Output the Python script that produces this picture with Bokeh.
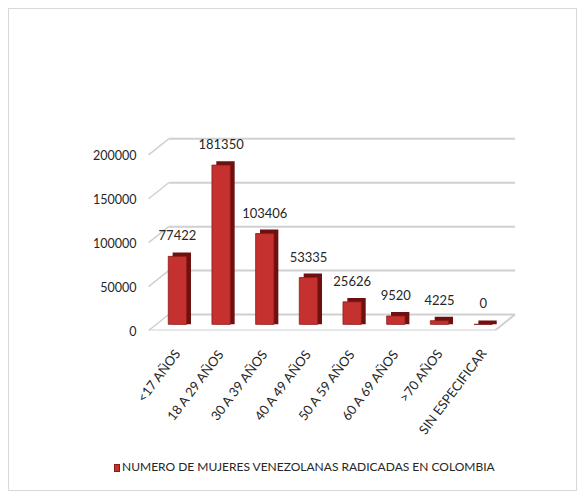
from bokeh.plotting import figure
from bokeh.layouts import column
from bokeh.models import (ColumnDataSource, LabelSet, FixedTicker, Range1d,
                          NumeralTickFormatter, Div)
from bokeh.core.properties import value
from bokeh.embed import file_html
from bokeh.resources import INLINE
from bokeh.transform import dodge
import math

categories = ["<17 AÑOS", "18 A 29 AÑOS", "30 A 39 AÑOS", "40 A 49 AÑOS",
              "50 A 59 AÑOS", "60 A 69 AÑOS", ">70 AÑOS", "SIN ESPECIFICAR"]
values = [77422, 181350, 103406, 53335, 25626, 9520, 4225, 0]
y_ticks = [0, 50000, 100000, 150000, 200000]
series_name = "NUMERO DE MUJERES VENEZOLANAS RADICADAS EN COLOMBIA"

FONT = "Lato"
TXT = "#262626"
FS = "12.5px"
RED = "#c4312e"
RED_EDGE = "#8e1a18"
RED_DARK = "#6e1010"

xs = [i + 0.5 for i in range(len(categories))]
lift = 7000        # bars stand mid-depth on the 3D floor
bar_depth = 4500
src = ColumnDataSource(dict(
    x=xs, v=values,
    base=[lift] * len(values),
    front_top=[v + lift for v in values],
    side_top=[v + lift + bar_depth for v in values],
    label=[str(v) for v in values],
))

W = 567
H_MAIN = 448
H_LEG = 33

p = figure(width=W, height=H_MAIN, output_backend="svg", toolbar_location=None,
           x_range=Range1d(-0.3, 8.4), y_range=Range1d(0, 230000),
           min_border_left=133, min_border_right=54, min_border_top=119,
           min_border_bottom=H_MAIN - 119 - 202)
p.outline_line_color = None
p.xgrid.visible = False
p.ygrid.visible = False

# 3D-like back wall gridlines
gdepth = 18200
x_front_l, x_back_l, x_back_r, x_front_r = -0.16, 0.3, 8.23, 7.77
p.segment(x0=[x_back_l] * len(y_ticks), y0=[t + gdepth for t in y_ticks],
          x1=[x_back_r] * len(y_ticks), y1=[t + gdepth for t in y_ticks],
          line_color="#d0d0d0", line_width=2)
p.segment(x0=[x_front_l] * len(y_ticks), y0=y_ticks,
          x1=[x_back_l] * len(y_ticks), y1=[t + gdepth for t in y_ticks],
          line_color="#d0d0d0", line_width=1.5)
p.segment(x0=[x_front_l, x_front_r], y0=[0, 0], x1=[x_front_r, x_back_r], y1=[0, gdepth],
          line_color="#d0d0d0", line_width=2)

# bars: dark side/top face behind, then front face
p.vbar(x=dodge("x", 0.1, range=p.x_range), top="side_top", bottom="base", width=0.42,
       source=src, fill_color=RED_DARK, line_color=None)
p.vbar(x="x", top="front_top", bottom="base", width=0.42, source=src,
       fill_color=RED, line_color=RED_EDGE, line_width=0.8)

labels = LabelSet(x="x", y="front_top", text="label", source=src, y_offset=16,
                  text_align="center", text_baseline="bottom",
                  text_font=value(FONT), text_font_size="13px", text_color=TXT)
p.add_layout(labels)

p.yaxis.ticker = FixedTicker(ticks=y_ticks)
p.yaxis.formatter = NumeralTickFormatter(format="0")
p.yaxis.axis_line_color = None
p.yaxis.major_tick_line_color = None
p.yaxis.minor_tick_line_color = None
p.yaxis.major_label_text_font = FONT
p.yaxis.major_label_text_font_size = FS
p.yaxis.major_label_text_color = TXT
p.yaxis.major_label_standoff = 0

p.xaxis.ticker = FixedTicker(ticks=xs)
p.xaxis.major_label_overrides = {x: c for x, c in zip(xs, categories)}
p.xaxis.major_label_orientation = math.radians(53)
p.xaxis.axis_line_color = None
p.xaxis.major_tick_line_color = None
p.xaxis.minor_tick_line_color = None
p.xaxis.major_label_text_font = FONT
p.xaxis.major_label_text_font_size = "13px"
p.xaxis.major_label_text_color = TXT
p.xaxis.major_label_standoff = 14

legend_html = (
    f'<div style="padding:3px 0 0 105px;font-family:{FONT};font-size:12px;'
    f'color:{TXT};white-space:nowrap;line-height:14px;">'
    f'<span style="display:inline-block;width:6px;height:8px;background:{RED};'
    f'border:1px solid {RED_EDGE};vertical-align:-1px;margin-right:2px;"></span>'
    f'{series_name}</div>'
)
leg = Div(text=legend_html, width=W, height=H_LEG, margin=0)

layout = column(p, leg, spacing=0, margin=(8, 8, 8, 8),
                styles={"border": "1px solid #d9d9d9"})

open("out.html", "w").write(file_html(layout, INLINE))
